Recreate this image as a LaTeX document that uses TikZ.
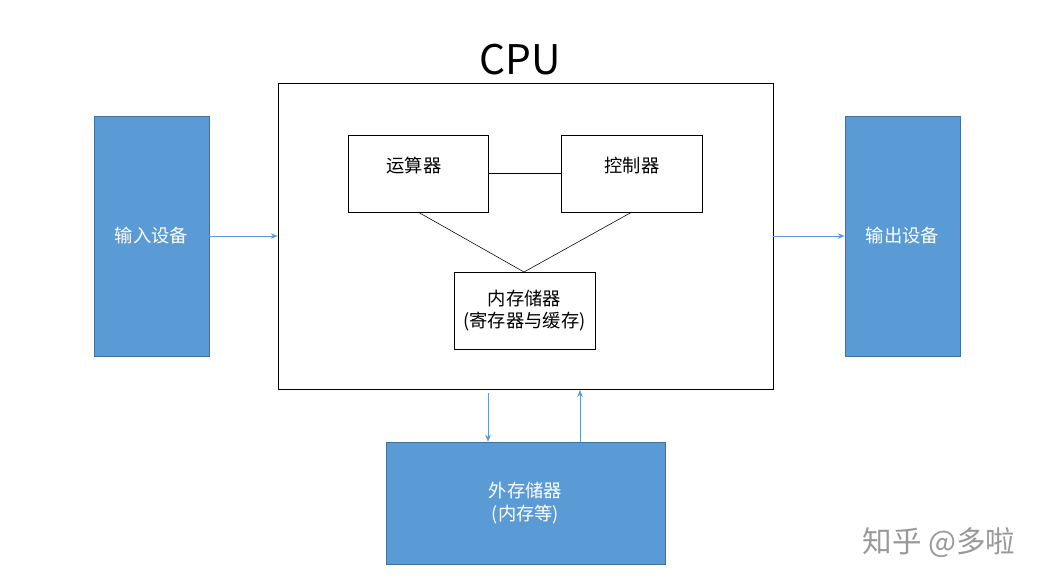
\documentclass[tikz,border=0pt]{standalone}
\usepackage{fontspec}
\setmainfont{Noto Sans CJK SC}
\usetikzlibrary{arrows.meta}
\definecolor{boxblue}{HTML}{5B9BD5}
\definecolor{boxedge}{HTML}{41719C}
\begin{document}
\begin{tikzpicture}[x=0.025cm,y=-0.025cm,
    blue box/.style={draw=boxedge,fill=boxblue,text=white,font=\fontsize{13}{16}\selectfont,align=center,inner sep=0pt},
    white box/.style={draw=black,fill=white,font=\fontsize{13}{16}\selectfont,align=center,inner sep=0pt},
    link/.style={draw=boxblue,-{Stealth[length=5pt,width=4pt]}},
    ]
  \useasboundingbox (0,0) rectangle (1047,587);

  \node[draw=black,minimum width=495*0.025cm,minimum height=306*0.025cm] (cpu) at (525.5,236) {};
  \node[font=\fontsize{29}{32}\selectfont] (title) at (520,60) {CPU};

  \node[blue box,minimum width=115*0.025cm,minimum height=240*0.025cm] (in) at (151.5,236) {输入设备};
  \node[blue box,minimum width=115*0.025cm,minimum height=240*0.025cm] (out) at (902.5,236) {输出设备};

  \node[white box,minimum width=140*0.025cm,minimum height=77*0.025cm] (alu) at (418,173.5) {};
  \node[font=\fontsize{13}{16}\selectfont] at (414,166) {运算器};
  \node[white box,minimum width=141*0.025cm,minimum height=77*0.025cm] (cu) at (631.5,173.5) {};
  \node[font=\fontsize{13}{16}\selectfont] at (632,166) {控制器};
  \node[white box,minimum width=141*0.025cm,minimum height=77*0.025cm] (mem) at (524.5,310.5) {内存储器\\(寄存器与缓存)};

  \node[blue box,minimum width=279*0.025cm,minimum height=122*0.025cm] (ext) at (525.5,503) {外存储器\\(内存等)};

  \coordinate (alub) at (418,212);
  \coordinate (cub) at (632,212);
  \coordinate (memt) at (524,272);
  \draw (alu.east) -- (cu.west);
  \draw (alub) -- (memt) -- (cub);

  \draw[link] (in.east) -- (cpu.west);
  \draw[link] (cpu.east) -- (out.west);
  \coordinate (down) at (488,393);
  \coordinate (up) at (580,390);
  \draw[link] (down) -- (down |- ext.north);
  \draw[link] (up |- ext.north) -- (up);

  \node[text=gray!80,font=\fontsize{21}{24}\selectfont] (mark) at (939,543) {知乎 @多啦};
\end{tikzpicture}
\end{document}
